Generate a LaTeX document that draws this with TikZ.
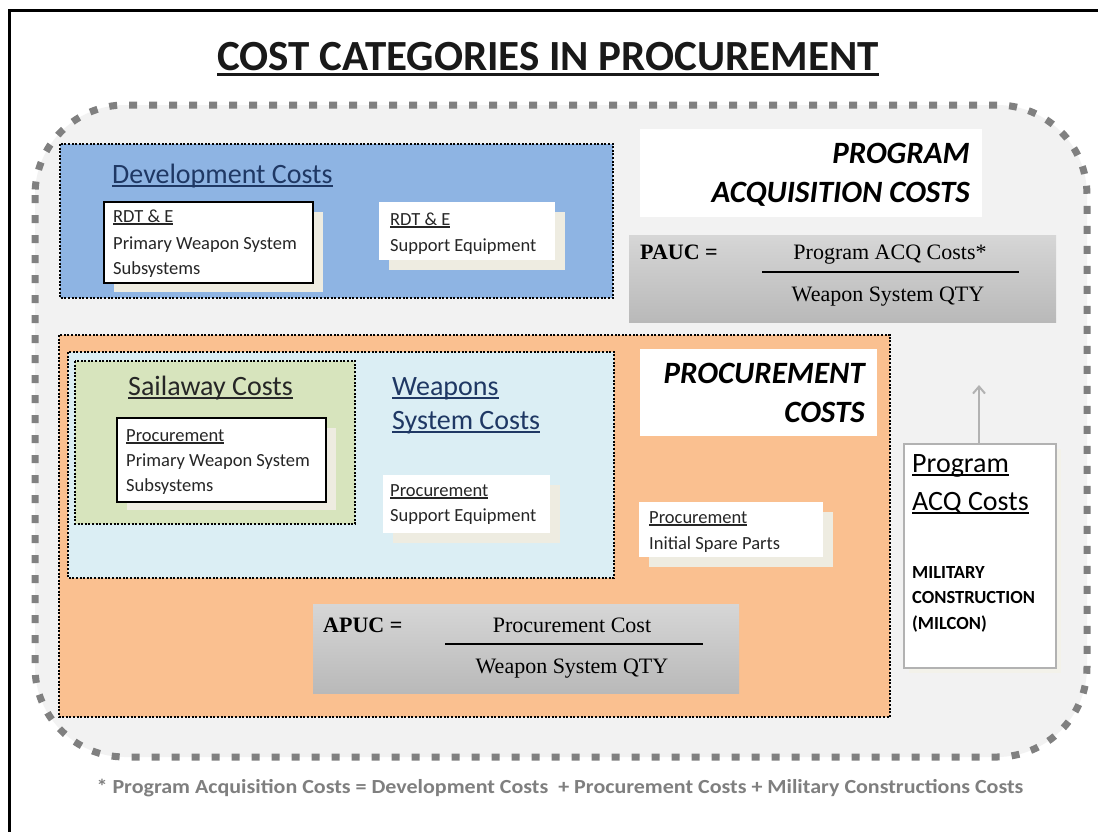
\documentclass[tikz,border=0pt]{standalone}
\usepackage{fontspec}
\setmainfont{Carlito}
\newfontfamily\tnr{Liberation Serif}
\usetikzlibrary{arrows.meta}
\definecolor{bggray}{HTML}{F2F2F2}
\definecolor{dashgray}{HTML}{808080}
\definecolor{devblue}{HTML}{8EB4E3}
\definecolor{procorange}{HTML}{FAC090}
\definecolor{wsblue}{HTML}{DBEEF4}
\definecolor{sailgreen}{HTML}{D7E4BD}
\definecolor{shadowc}{HTML}{EEECE1}
\definecolor{navy}{HTML}{1F3864}
\definecolor{darktxt}{HTML}{262626}
\definecolor{foottxt}{HTML}{7F7F7F}
\newcommand\ulx[1]{\leavevmode\setbox0\hbox{#1}\rlap{\rule[-0.14em]{\wd0}{0.065em}}\box0}
\newcommand\fsTitle{\fontsize{43}{50}\selectfont\bfseries}
\newcommand\fsHead{\fontsize{28}{34}\selectfont}
\newcommand\fsBig{\fontsize{31}{37}\selectfont\bfseries\itshape}
\newcommand\fsSmall{\fontsize{18.5}{24}\selectfont}
\newcommand\fsSerif{\tnr\fontsize{22}{26}\selectfont}
\tikzset{
  region/.style={line width=2.5pt, dash pattern=on 2pt off 1.6pt, draw=black},
  shadowbox/.style={fill=shadowc},
  whitebox/.style={fill=white},
  linebox/.style={fill=white, draw=black, line width=1.6pt},
  txt/.style={inner sep=0pt, anchor=base west, text=darktxt, font=\fsSmall},
  head/.style={inner sep=0pt, anchor=base west, font=\fsHead},
  big/.style={inner sep=0pt, anchor=base east, font=\fsBig, text=black},
  serif/.style={inner sep=0pt, font=\fsSerif, text=black},
  fracline/.style={line width=2pt, draw=black},
  gradbox/.style={top color=gray!32, middle color=gray!14, bottom color=gray!55},
}
\begin{document}
\begin{tikzpicture}[x=1pt,y=-1pt]
\useasboundingbox (0,0) rectangle (1098,831);
\fill[white] (0,0) rectangle (1098,831);
% outer frame
\draw[line width=3pt] (9,840) -- (9,10) -- (1110,10);
% title
\node[inner sep=0pt, anchor=base, font=\fsTitle, text=black!90] (title) at (548,70) {\ulx{COST CATEGORIES IN PROCUREMENT}};
% big dashed rounded area
\draw[fill=bggray, draw=dashgray, line width=7pt, dash pattern=on 8pt off 12pt, rounded corners=90pt] (35,105) rectangle (1087,757);
% Development costs region
\draw[region, fill=devblue] (60,144) rectangle (613,298);
\node[head, text=navy] (devt) at (112,183) {\ulx{Development Costs}};
\fill[shadowbox] (114,212) rectangle (323,292);
\draw[linebox] (104,202) rectangle (313,283);
\node[txt] (r1a) at (113,222) {\ulx{RDT \& E}};
\node[txt] (r1b) at (113,249) {Primary Weapon System};
\node[txt] (r1c) at (113,274) {Subsystems};
\fill[shadowbox] (389,212) rectangle (565,270);
\fill[whitebox] (379,202) rectangle (555,260);
\node[txt] (r2a) at (390,225) {\ulx{RDT \& E}};
\node[txt] (r2b) at (390,251) {Support Equipment};
% Program acquisition costs label
\fill[white] (640,129) rectangle (982,217);
\node[big] (pac1) at (970,163) {PROGRAM};
\node[big] (pac2) at (970,202) {ACQUISITION COSTS};
% PAUC
\shade[gradbox] (629,235) rectangle (1056,322);
\node[serif, anchor=base west, font=\fsSerif\bfseries] (pauc) at (640,259) {PAUC =};
\node[serif, anchor=base] (paucn) at (890,259) {Program ACQ Costs*};
\draw[fracline] (762,272) -- (1019,272);
\node[serif, anchor=base] (paucd) at (888,301) {Weapon System QTY};
% Procurement region
\draw[region, fill=procorange] (59,335) rectangle (890,717);
\draw[region, fill=wsblue] (68,352) rectangle (614,578);
\draw[region, fill=sailgreen] (75,361) rectangle (355,524);
\node[head, text=darktxt] (sail) at (128,395) {\ulx{Sailaway Costs}};
\fill[shadowbox] (127,428) rectangle (336,510);
\draw[linebox] (117,418) rectangle (326,502);
\node[txt] (p1a) at (126,441) {\ulx{Procurement}};
\node[txt] (p1b) at (126,466) {Primary Weapon System};
\node[txt] (p1c) at (126,491) {Subsystems};
\node[head, text=navy] (ws1) at (392,395) {\ulx{Weapons}};
\node[head, text=navy] (ws2) at (392,429) {\ulx{System Costs}};
\fill[shadowbox] (393,485) rectangle (560,543);
\fill[whitebox] (383,475) rectangle (550,533);
\node[txt] (p2a) at (390,496) {\ulx{Procurement}};
\node[txt] (p2b) at (390,521) {Support Equipment};
% procurement costs label
\fill[white] (640,349) rectangle (877,436);
\node[big] (pc1) at (865,383) {PROCUREMENT};
\node[big] (pc2) at (865,422) {COSTS};
% spare parts
\fill[shadowbox] (649,512) rectangle (833,567);
\fill[whitebox] (639,502) rectangle (823,557);
\node[txt] (p3a) at (649,523) {\ulx{Procurement}};
\node[txt] (p3b) at (649,549) {Initial Spare Parts};
% APUC
\shade[gradbox] (313,604) rectangle (739,693);
\node[serif, anchor=base west, font=\fsSerif\bfseries] (apuc) at (323,632) {APUC =};
\node[serif, anchor=base] (apucn) at (572,632) {Procurement Cost};
\draw[fracline] (445,644) -- (703,644);
\node[serif, anchor=base] (apucd) at (572,673) {Weapon System QTY};
% Program ACQ costs box
\fill[shadowc!70] (909,449) rectangle (1061,673);
\node[draw=gray!60, line width=1.5pt, fill=white, minimum width=152pt, minimum height=224pt, anchor=north west, inner sep=0pt] (acq) at (903,443) {};
\node[head, text=black] (acq1) at (912,472) {\ulx{Program}};
\node[head, text=black] (acq2) at (912,510) {\ulx{ACQ Costs}};
\node[txt, font=\fsSmall\bfseries, text=black] (m1) at (912,578) {MILITARY};
\node[txt, font=\fsSmall\bfseries, text=black] (m2) at (912,603) {CONSTRUCTION};
\node[txt, font=\fsSmall\bfseries, text=black] (m3) at (912,629) {(MILCON)};
\coordinate (arrtip) at (979,385);
\draw[draw=gray!60, line width=2pt, -{Straight Barb[length=7pt,width=12pt]}] (acq.north -| arrtip) -- (arrtip);
% footer
\node[inner sep=0pt, anchor=base, text=foottxt, font=\fontsize{20}{24}\selectfont\bfseries] (foot) at (560,793) {\scalebox{1.1}[1]{* Program Acquisition Costs = Development Costs~ + Procurement Costs + Military Constructions Costs}};
\end{tikzpicture}
\end{document}
